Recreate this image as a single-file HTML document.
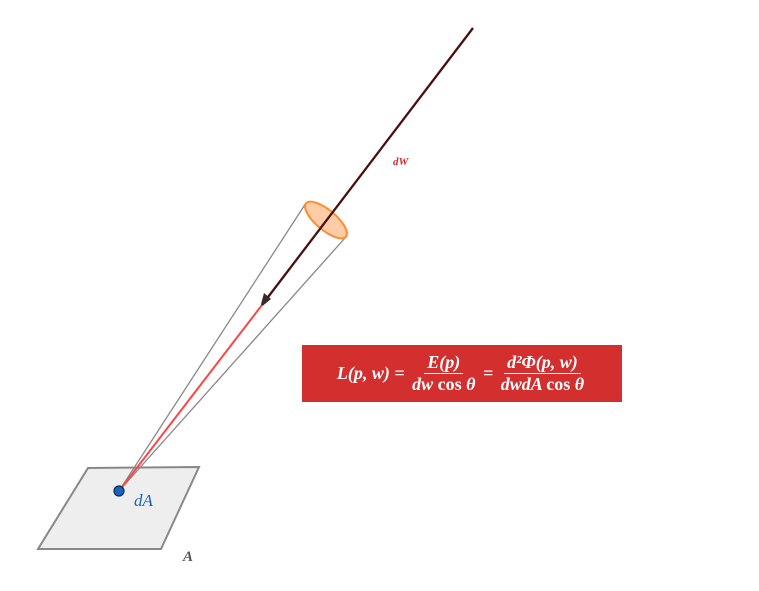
<!DOCTYPE html>
<html><head><meta charset="utf-8"><style>
body{margin:0;width:759px;height:591px;background:#fff;overflow:hidden;position:relative;font-family:"Liberation Serif",serif}
#formula{position:absolute;left:302px;top:345px;width:320px;height:57px;background:#d32f2f;color:#fff;font-weight:bold;font-style:italic;font-size:18px;display:flex;align-items:center;justify-content:center;white-space:nowrap}
.frac{display:inline-flex;flex-direction:column;align-items:center;margin:0 3px;vertical-align:middle;line-height:21px}
.num{border-bottom:1px solid #fff;padding:0 3px}
.up{font-style:normal}
</style></head><body>
<svg width="759" height="591" style="position:absolute;left:0;top:0">
<polygon points="38,549 88,468 199,467 161,549" fill="#eeeeee" stroke="#888" stroke-width="2"/>
<line x1="119" y1="491" x2="306" y2="203" stroke="#888" stroke-width="1.3"/>
<line x1="119" y1="491" x2="345" y2="238" stroke="#888" stroke-width="1.3"/>
<ellipse cx="326" cy="220" rx="26" ry="10" transform="rotate(40 326 220)" fill="#ffcca8" stroke="#ff8c33" stroke-width="2"/>
<line x1="473" y1="28" x2="262" y2="305" stroke="#4a1010" stroke-width="2.3"/>
<polygon points="260,308 264,293 271,299" fill="#3a2a2a"/>
<line x1="262" y1="305" x2="119" y2="491" stroke="#f44" stroke-width="2"/>
<circle cx="119" cy="491" r="5" fill="#1565c0" stroke="#0a2a50" stroke-width="1.2"/>
<text x="134" y="506" fill="#1565c0" font-style="italic" font-size="17" font-family="Liberation Serif">dA</text>
<text x="183" y="561" fill="#555" font-style="italic" font-weight="bold" font-size="15" font-family="Liberation Serif">A</text>
<text x="393" y="165" fill="#d32f2f" font-style="italic" font-weight="bold" font-size="11" font-family="Liberation Serif">dW</text>
</svg>
<div id="formula">
L(p, w) =&nbsp;<span class="frac"><span class="num">E(p)</span><span>dw <span class="up">cos</span> θ</span></span>&nbsp;=&nbsp;<span class="frac"><span class="num">d²Φ(p, w)</span><span>dwdA <span class="up">cos</span> θ</span></span>
</div>
</body></html>
